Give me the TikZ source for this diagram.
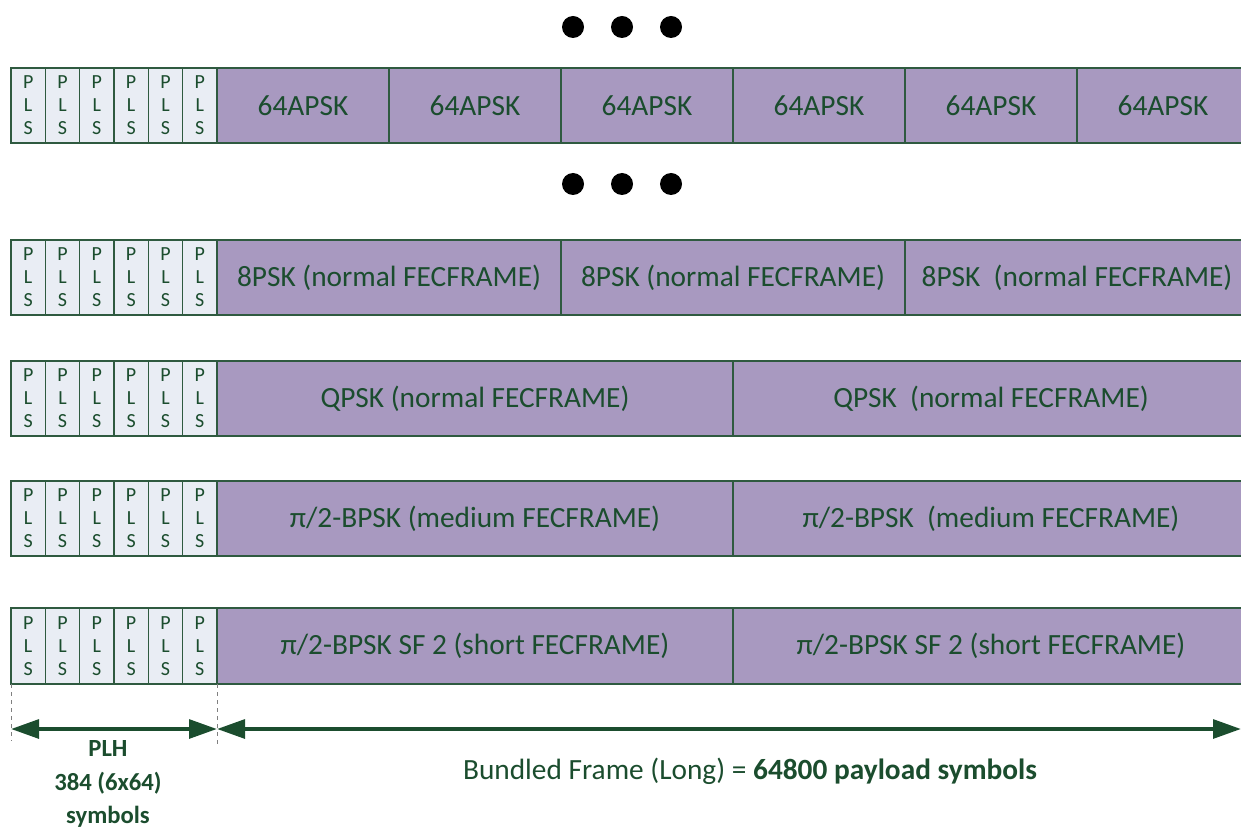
\documentclass[tikz,border=0pt]{standalone}
\usepackage{fontspec}
\setmainfont{Carlito}
\usetikzlibrary{arrows.meta}

\definecolor{plsfill}{RGB}{233,237,244}
\definecolor{payfill}{RGB}{168,153,192}
\definecolor{edgegreen}{RGB}{47,90,64}
\definecolor{textgreen}{RGB}{27,77,46}

\tikzset{
  plsbox/.style={draw=edgegreen, fill=plsfill, line width=1pt},
  paybox/.style={draw=edgegreen, fill=payfill, line width=1pt},
  plstext/.style={text=textgreen, font=\fontsize{15}{17.25}\selectfont, align=center, inner sep=0pt},
  paytext/.style={text=textgreen, font=\fontsize{22}{26}\selectfont, inner sep=0pt},
  dot/.style={circle, fill=black, inner sep=0pt, minimum size=16.5pt},
  guide/.style={draw=gray, dashed, line width=0.6pt},
  span/.style={draw=textgreen, line width=3pt, {Triangle[length=21pt,width=14pt]}-{Triangle[length=21pt,width=14pt]}},
}

\begin{document}
\begin{tikzpicture}[x=0.75pt,y=0.75pt,yscale=-1,xscale=1]
\useasboundingbox (0,0) rectangle (1241,830);

%Dots
\node[dot] (dotA1) at (573,27) {};
\node[dot] (dotA2) at (622,27) {};
\node[dot] (dotA3) at (671,27) {};
\node[dot] (dotB1) at (573,184) {};
\node[dot] (dotB2) at (622,184) {};
\node[dot] (dotB3) at (671,184) {};

%Shape: PLS cells
\foreach \r/\y/\h in {1/68/75,2/240/75,3/361/75,4/481/75,5/608/76}{
  \foreach \i in {0,...,5}{
    \draw[plsbox] ({11+34.33*\i},\y) rectangle ++(34.33,\h);
    \node[plstext] (pls\r\i) at ({28.17+34.33*\i},{\y+\h/2}) {P\\L\\S};
  }
}

%Shape: 64APSK row
\foreach \i in {0,...,5}{
  \draw[paybox] ({217+172*\i},68) rectangle ++(172,75);
  \node[paytext] (apsk\i) at ({303+172*\i},105.5) {64APSK};
}

%Shape: 8PSK row
\draw[paybox] (217,240) rectangle (561,315);
\draw[paybox] (561,240) rectangle (905,315);
\draw[paybox] (905,240) rectangle (1250,315);
% Text Node
\node[paytext] (psk1) at (389,277.5) {8PSK (normal FECFRAME)};
\node[paytext] (psk2) at (733,277.5) {8PSK (normal FECFRAME)};
\node[paytext] (psk3) at (1077,277.5) {8PSK\ \ (normal FECFRAME)};

%Shape: QPSK row
\draw[paybox] (217,361) rectangle (733,436);
\draw[paybox] (733,361) rectangle (1250,436);
% Text Node
\node[paytext] (qpsk1) at (475,398.5) {QPSK (normal FECFRAME)};
\node[paytext] (qpsk2) at (991,398.5) {QPSK\ \ (normal FECFRAME)};

%Shape: medium BPSK row
\draw[paybox] (217,481) rectangle (733,556);
\draw[paybox] (733,481) rectangle (1250,556);
% Text Node
\node[paytext] (bpskm1) at (475,518.5) {π/2-BPSK (medium FECFRAME)};
\node[paytext] (bpskm2) at (991,518.5) {π/2-BPSK\ \ (medium FECFRAME)};

%Shape: short BPSK row
\draw[paybox] (217,608) rectangle (733,684);
\draw[paybox] (733,608) rectangle (1250,684);
% Text Node
\node[paytext] (bpsks1) at (475,646) {π/2-BPSK SF 2 (short FECFRAME)};
\node[paytext] (bpsks2) at (991,646) {π/2-BPSK SF 2 (short FECFRAME)};

%Straight Lines: guides
\coordinate (guideL) at (11,684);
\coordinate (guideM) at (217,684);
\coordinate (plhL) at (11,729);
\coordinate (plhR) at (217,729);
\coordinate (frameR) at (1241,729);
\draw[guide] (guideL) -- (11,741);
\draw[guide] (guideM) -- (217,746);

%Straight Lines: spans
\draw[span] (plhL) -- (plhR);
\draw[span] (plhR) -- (frameR);

% Text Node
\node[text=textgreen, font=\bfseries\fontsize{18.5}{25}\selectfont, align=center] (plhtext) at (108,784) {PLH\\384 (6x64)\\symbols};
% Text Node
\node[text=textgreen, font=\fontsize{22}{26}\selectfont] (frametext) at (750,771) {Bundled Frame (Long) = \textbf{64800 payload symbols}};

\end{tikzpicture}
\end{document}
